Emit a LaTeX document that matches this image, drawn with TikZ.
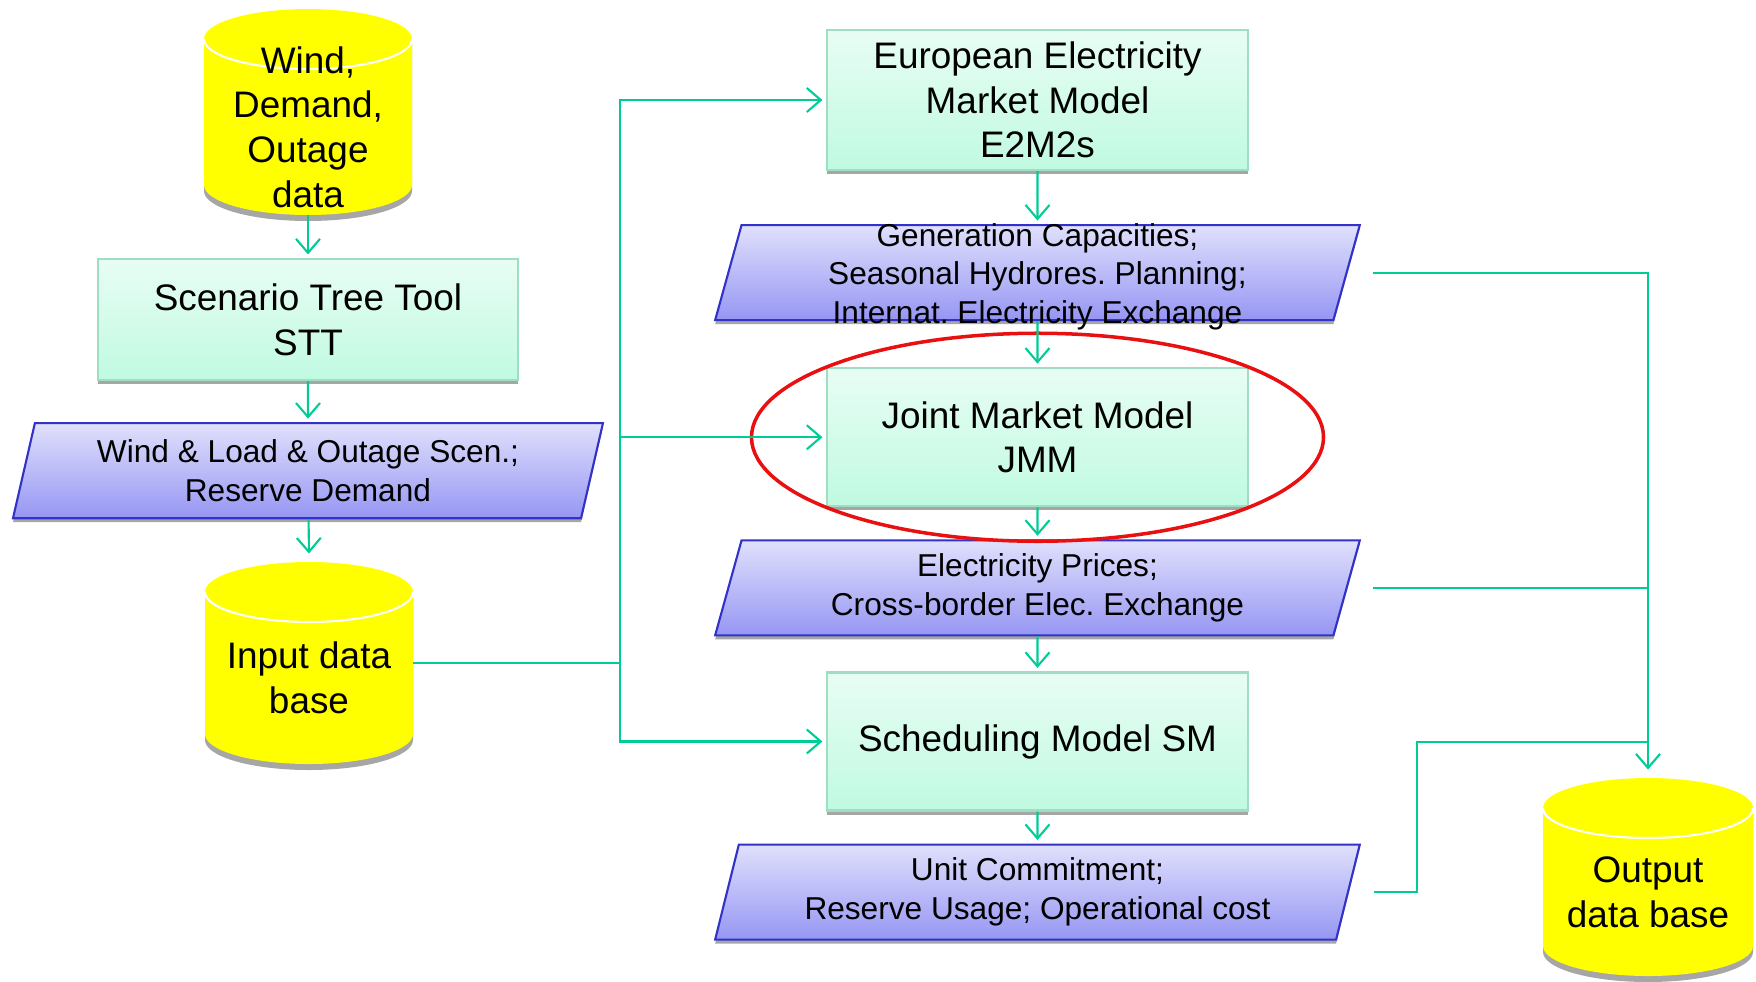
\documentclass[tikz,border=0pt]{standalone}
\usepackage{fontspec}
\setmainfont{Liberation Sans}
\frenchspacing
\usetikzlibrary{
  positioning,
  shapes.geometric,
  arrows.meta,
  shadows,
  backgrounds
}

\definecolor{linkgreen}{RGB}{0,204,150}
\definecolor{boxtop}{RGB}{232,253,244}
\definecolor{boxbottom}{RGB}{192,250,225}
\definecolor{boxline}{RGB}{160,222,196}
\definecolor{paratop}{RGB}{224,224,252}
\definecolor{parabottom}{RGB}{150,150,244}
\definecolor{paraline}{RGB}{50,50,200}
\definecolor{dbyellow}{RGB}{255,255,0}
\definecolor{ringred}{RGB}{232,16,16}

% yellow drum behind a database node: #1 node, #2 x radius
\newcommand\dbdrum[2]{%
  \fill[black!35] ([yshift=-0.21cm]#1.north west) -- ([yshift=0.39cm]#1.south west)
    arc[start angle=180, end angle=360, x radius=#2, y radius=0.3cm]
    -- ([yshift=-0.21cm]#1.north east) -- cycle;
  \fill[dbyellow] ([yshift=-0.15cm]#1.north west) -- ([yshift=0.45cm]#1.south west)
    arc[start angle=180, end angle=360, x radius=#2, y radius=0.3cm]
    -- ([yshift=-0.15cm]#1.north east)
    arc[start angle=0, end angle=180, x radius=#2, y radius=0.3cm] -- cycle;
  \draw[white, line width=0.6pt] ([yshift=-0.15cm]#1.north east)
    arc[start angle=0, end angle=-180, x radius=#2, y radius=0.3cm];
}

\begin{document}
\begin{tikzpicture}[
  node distance=0.4cm,
  bigfont/.style={font=\fontsize{10.5}{12.7}\selectfont},
  smallfont/.style={font=\fontsize{9}{11}\selectfont},
  model/.style={
    draw=boxline,
    line width=0.6pt,
    top color=boxtop,
    bottom color=boxbottom,
    minimum width=4.21cm,
    minimum height=1.38cm,
    inner sep=2pt,
    align=center,
    bigfont,
    drop shadow={shadow xshift=0pt, shadow yshift=-0.04cm, opacity=1, fill=black!35}
  },
  result/.style={
    trapezium,
    trapezium left angle=76,
    trapezium right angle=104,
    trapezium stretches=true,
    draw=paraline,
    line width=0.6pt,
    top color=paratop,
    bottom color=parabottom,
    minimum width=6.45cm,
    minimum height=0.95cm,
    inner sep=1pt,
    align=center,
    smallfont,
    drop shadow={shadow xshift=0pt, shadow yshift=-0.04cm, opacity=1, fill=black!35}
  },
  database/.style={
    rectangle,
    minimum width=2.08cm,
    minimum height=2.06cm,
    inner sep=0pt,
    outer sep=0pt,
    align=center,
    bigfont
  },
  flow/.style={draw=linkgreen, line width=0.6pt, shorten >=1pt,
    -{Straight Barb[length=1.4mm, width=2.4mm]}},
  feed/.style={draw=linkgreen, line width=0.6pt}
]
\useasboundingbox (0,0) rectangle (17.56,-9.81);

% Input side
\node[database] (windb) at (3.08,-1.27) {Wind,\\Demand,\\Outage\\data};
\node[model, minimum width=4.20cm, minimum height=1.21cm, below=0.28cm of windb] (stt) {Scenario Tree Tool\\STT};
\node[result, minimum width=5.90cm, below=0.41cm of stt] (scen) {Wind \& Load \& Outage Scen.;\\Reserve Demand};
\node[database, minimum height=2.02cm] (indb) at (3.09,-6.78) {Input data\\base};

% Model chain
\node[model, minimum height=1.40cm] (e2m2s) at (10.375,-1.00) {European Electricity\\Market Model\\E2M2s};
\node[result, below=0.53cm of e2m2s] (gencap) {\phantom{Cross-border Elec. Exchange}\\\phantom{Electricity Prices;}};
\node[smallfont, align=center] (gencaptxt) at ([yshift=-0.04cm]gencap.center) {Generation Capacities;\\Seasonal Hydrores. Planning;\\Internat. Electricity Exchange};
\node[model, below=0.46cm of gencap] (jmm) {Joint Market Model\\JMM};
\node[result, below=0.32cm of jmm] (elec) {Electricity Prices;\\Cross-border Elec. Exchange};
\node[model, below=0.35cm of elec] (sm) {Scheduling Model SM};
\node[result, below=0.32cm of sm] (uc) {Unit Commitment;\\Reserve Usage; Operational cost};

% Output
\node[database, minimum width=2.10cm, minimum height=1.98cm] (outdb) at (16.48,-8.92) {Output\\data base};

\begin{scope}[on background layer]
  \dbdrum{windb}{1.04cm}
  \dbdrum{indb}{1.04cm}
  \dbdrum{outdb}{1.05cm}
\end{scope}

% Highlight
\node[ellipse, draw=ringred, line width=1pt, minimum width=5.72cm, minimum height=2.08cm] (focus) at (jmm.center) {};

% Arrows
\coordinate (trunk) at (6.20,0);
\coordinate (ucbend) at (14.17,-7.42);

\draw[flow] ([yshift=0.15cm]windb.south) -- (stt);
\draw[flow] (stt) -- (scen);
\draw[flow] (scen) -- ([yshift=0.20cm]indb.north);

\draw[feed] ([yshift=0.15cm]indb.east) -- ([yshift=0.15cm]indb.east -| trunk);
\draw[flow] ([yshift=0.15cm]indb.east -| trunk) |- (e2m2s.west);
\draw[flow] ([yshift=0.15cm]indb.east -| trunk) |- (sm.west);
\draw[flow] (jmm.west -| trunk) -- (jmm.west);

\draw[flow] (e2m2s) -- (gencap);
\draw[flow] (gencap) -- (jmm);
\draw[flow] (jmm) -- (elec);
\draw[flow] (elec) -- (sm);
\draw[flow] (sm) -- (uc);

\draw[flow] ([xshift=0.25cm]gencap.east) -| ([yshift=0.20cm]outdb.north);
\draw[feed] ([xshift=0.25cm]elec.east) -- (elec.east -| outdb.north);
\draw[feed] ([xshift=0.25cm]uc.east) -| (ucbend) -- (ucbend -| outdb.north);

\end{tikzpicture}
\end{document}
